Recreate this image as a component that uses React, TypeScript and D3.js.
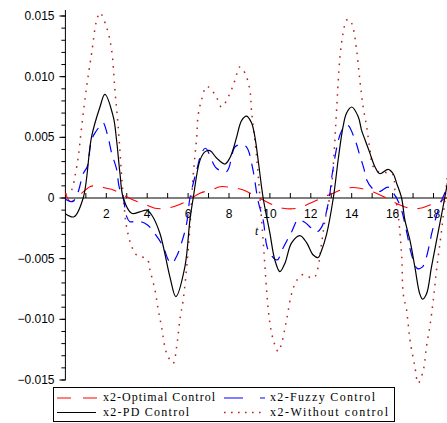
import React from "react";
import * as d3 from "d3";

// x2 response for four controllers over time t
const tOptimal = [0, 0.25, 0.7, 1.2, 1.53, 2.01, 2.34, 2.67, 3.0, 3.32, 3.97, 4.38, 4.95, 5.52, 6.09, 6.58, 7.15, 7.56, 8.04, 8.7, 9.19, 9.67, 10.16, 10.65, 11.31, 11.96, 12.6, 13.1, 13.58, 13.9, 14.4, 15.2, 15.7, 16.36, 16.85, 17.33, 17.82, 18.3, 18.7];
const xOptimal = [0.0004, -0.0003, 0.00025, 0.00093, 0.001, 0.0008, 0.00066, 0.0004, 0.0001, -0.00016, -0.00058, -0.00085, -0.00085, -0.00058, -0.0001, 0.0004, 0.00066, 0.00093, 0.00088, 0.00066, 0.00025, -0.00016, -0.00058, -0.00085, -0.00085, -0.00044, 0.00006, 0.0004, 0.00072, 0.00085, 0.0008, 0.0004, 0.0, -0.00058, -0.00085, -0.00085, -0.00058, -0.0003, 0.0001];

const tFuzzy = [0, 0.35, 0.6, 0.87, 1.07, 1.28, 1.5, 1.77, 1.85, 2.09, 2.26, 2.5, 2.63, 2.83, 2.99, 3.15, 3.56, 4.0, 4.4, 4.78, 5.03, 5.2, 5.44, 5.68, 5.93, 6.09, 6.42, 6.66, 6.85, 7.39, 7.88, 8.29, 8.6, 8.86, 9.15, 9.43, 9.67, 9.92, 10.35, 10.65, 11.06, 11.38, 11.7, 12.04, 12.28, 12.53, 12.9, 13.05, 13.5, 13.8, 14.16, 14.4, 14.6, 14.73, 15.0, 15.3, 15.78, 16.0, 16.36, 16.7, 16.9, 17.2, 17.45, 17.82, 17.9, 18.31, 18.7];
const xFuzzy = [-0.0001, -0.0003, 0.0004, 0.002, 0.0026, 0.0048, 0.0055, 0.0061, 0.0062, 0.005, 0.0037, 0.0024, 0.0009, 0, -0.0015, -0.00195, -0.0019, -0.0022, -0.003, -0.004, -0.0051, -0.0054, -0.0048, -0.0037, -0.0021, 0, 0.0023, 0.0037, 0.0041, 0.00245, 0.00217, 0.0042, 0.0044, 0.0042, 0.0025, -0.0003, -0.0018, -0.0043, -0.0051, -0.0041, -0.0028, -0.0018, -0.002, -0.0025, -0.0028, -0.0024, 0, 0.002, 0.0055, 0.006, 0.0048, 0.0035, 0.0024, 0.0015, 0.0008, 0.0005, 0.0009, 0.0005, -0.0006, -0.0029, -0.0045, -0.0058, -0.0057, -0.0037, -0.003, -0.0006, 0.001];

const tPD = [0, 0.42, 0.87, 1.28, 1.69, 1.93, 2.34, 2.5, 2.67, 2.83, 3.24, 3.64, 3.97, 4.22, 4.62, 5.11, 5.4, 5.84, 6.09, 6.25, 6.58, 6.82, 7.07, 7.39, 7.8, 8.04, 8.2, 8.37, 8.62, 8.86, 9.1, 9.27, 9.45, 9.67, 10.0, 10.24, 10.49, 10.73, 11.06, 11.47, 11.8, 12.12, 12.36, 12.53, 12.77, 13.1, 13.35, 13.58, 13.75, 14.0, 14.32, 14.48, 14.65, 14.89, 15.13, 15.38, 15.78, 16.03, 16.2, 16.44, 16.6, 16.85, 17.09, 17.33, 17.47, 17.66, 17.9, 18.15, 18.47, 18.7];
const xPD = [-0.0013, -0.00155, 0, 0.00505, 0.0075, 0.00854, 0.0067, 0.0048, 0.002, 0, -0.00126, -0.00115, -0.001, -0.0014, -0.0029, -0.0065, -0.00813, -0.0057, -0.0018, 0, 0.0031, 0.0038, 0.0039, 0.0033, 0.0028, 0.0033, 0.004, 0.005, 0.0064, 0.00675, 0.0062, 0.005, 0.0028, 0, -0.0029, -0.0051, -0.00607, -0.0054, -0.0037, -0.0031, -0.0037, -0.0047, -0.0049, -0.0043, -0.003, 0, 0.0033, 0.0059, 0.007, 0.0075, 0.0067, 0.0056, 0.0048, 0.0037, 0.0026, 0.002, 0.00236, 0.002, 0.0012, 0, -0.0018, -0.0035, -0.0057, -0.0079, -0.00834, -0.0079, -0.0057, -0.0035, -0.0007, 0.0014];

const tNone = [0, 0.3, 0.46, 0.63, 0.79, 1.04, 1.28, 1.53, 1.69, 2.01, 2.26, 2.42, 2.58, 2.83, 2.99, 3.24, 3.48, 4.0, 4.13, 4.38, 4.54, 4.7, 4.95, 5.27, 5.44, 5.6, 5.76, 5.93, 6.09, 6.25, 6.42, 6.49, 6.66, 6.9, 7.15, 7.39, 7.64, 8.04, 8.29, 8.53, 8.78, 9.02, 9.1, 9.35, 9.51, 9.67, 9.92, 10.08, 10.24, 10.41, 10.57, 10.82, 11.06, 11.31, 11.63, 12.04, 12.2, 12.36, 12.53, 12.7, 13.0, 13.15, 13.26, 13.42, 13.58, 13.75, 13.9, 14.07, 14.24, 14.4, 14.56, 14.73, 14.89, 15.05, 15.38, 15.78, 16.03, 16.11, 16.3, 16.45, 16.52, 16.68, 16.85, 17.09, 17.25, 17.5, 17.66, 17.82, 17.99, 18.15, 18.4, 18.7];
const xNone = [0.0003, 0.00066, 0.00175, 0.0034, 0.0058, 0.0092, 0.0119, 0.01466, 0.01526, 0.0141, 0.0122, 0.0089, 0.0059, 0.0001, -0.00236, -0.004, -0.0047, -0.00505, -0.0059, -0.0076, -0.0092, -0.0106, -0.0128, -0.01362, -0.01225, -0.01, -0.0084, -0.0057, -0.0024, 0.0019, 0.005, 0.0068, 0.0081, 0.0092, 0.0089, 0.0083, 0.0075, 0.0086, 0.0097, 0.0108, 0.0103, 0.0089, 0.0072, 0.0034, 0.0001, -0.0035, -0.0092, -0.0111, -0.0121, -0.01266, -0.012, -0.01, -0.0079, -0.0068, -0.0063, -0.0066, -0.0065, -0.0057, -0.0037, -0.0018, 0.0008, 0.004, 0.0072, 0.0115, 0.0136, 0.01466, 0.0147, 0.014, 0.0122, 0.0097, 0.0075, 0.0059, 0.004, 0.0026, 0.0021, 0.0021, 0.0019, 0.0007, -0.0018, -0.005, -0.0079, -0.0092, -0.0117, -0.0139, -0.01527, -0.0142, -0.0122, -0.0106, -0.0084, -0.0059, -0.0026, 0.0022];

const yMajorTicks = [0.015, 0.01, 0.005, 0, -0.005, -0.01, -0.015];
const yMajorLabels = ["0.015", "0.010", "0.005", "0", "\u22120.005", "\u22120.010", "\u22120.015"];
const xTickLabels = [2, 4, 6, 8, 10, 12, 14, 16, 18];

const legendNames = ["x2-Optimal Control", "x2-Fuzzy Control", "x2-PD Control", "x2-Without control"];

const W = 447;
const H = 423;

export default function App() {
  const x = d3.scaleLinear().domain([0, 18.7]).range([65.4, 65.4 + 18.7 * 20.45]);
  const y = d3.scaleLinear().domain([-0.015, 0.015]).range([380, 16]);

  const mk = (ts: number[], vs: number[]) =>
    d3
      .line<number>()
      .x((_, i) => x(ts[i]))
      .y((v) => y(v))
      .curve(d3.curveCatmullRom.alpha(0.5))(vs) || "";

  const series = [
    { d: mk(tNone, xNone), stroke: "#bd2020", width: 1.5, dash: "1.6,6" },
    { d: mk(tOptimal, xOptimal), stroke: "#ff0000", width: 1.1, dash: "14,10" },
    { d: mk(tFuzzy, xFuzzy), stroke: "#0000ff", width: 1.2, dash: "11,8" },
    { d: mk(tPD, xPD), stroke: "#000000", width: 1.2, dash: undefined as string | undefined },
  ];

  const minorY = d3.range(-15, 16).map((k) => k / 1000);
  const minorX = d3.range(1, 19);
  const axisX = x(0);
  const axisY = y(0);
  const tickFont = { fontFamily: "'Liberation Sans', Arial, sans-serif", fontSize: 12 };
  const legendFont = { fontFamily: "'Liberation Serif', 'Times New Roman', serif", fontSize: 12 };

  return (
    <svg
      width={W}
      height={H}
      viewBox={`0 0 ${W} ${H}`}
      style={{ position: "absolute", left: 0, top: 0, background: "#fff" }}
    >
      <rect x={0} y={0} width={W} height={H} fill="#fff" />
      {/* axes */}
      <line x1={axisX} x2={axisX} y1={10} y2={380} stroke="#000" strokeWidth={1} />
      <line x1={axisX} x2={W} y1={axisY} y2={axisY} stroke="#000" strokeWidth={1} />
      {minorY.map((v) => (
        <line key={"my" + v} x1={axisX - 4} x2={axisX} y1={y(v)} y2={y(v)} stroke="#000" strokeWidth={1} />
      ))}
      {yMajorTicks.map((v, i) => (
        <g key={"Y" + v}>
          <line x1={axisX - 6} x2={axisX} y1={y(v)} y2={y(v)} stroke="#000" strokeWidth={1} />
          <text x={54.5} y={y(v) + 4} textAnchor="end" {...tickFont} fill="#000">
            {yMajorLabels[i]}
          </text>
        </g>
      ))}
      {minorX.map((t) => (
        <line key={"mx" + t} x1={x(t)} x2={x(t)} y1={axisY} y2={axisY - 5} stroke="#000" strokeWidth={1} />
      ))}
      {xTickLabels.map((t) => (
        <text key={"X" + t} x={x(t)} y={218} textAnchor="middle" {...tickFont} fill="#000">
          {t}
        </text>
      ))}
      <text x={255} y={235} fontFamily="'Liberation Serif', serif" fontStyle="italic" fontSize={12} fill="#000">
        t
      </text>
      {/* curves */}
      {series.map((s, i) => (
        <path
          key={i}
          d={s.d}
          fill="none"
          stroke={s.stroke}
          strokeWidth={s.width}
          strokeDasharray={s.dash}
          strokeLinecap="butt"
        />
      ))}
      {/* legend */}
      <rect x={53.5} y={387.5} width={341} height={34} fill="#fff" stroke="#000" strokeWidth={1} />
      <line x1={57} x2={97} y1={398} y2={398} stroke="#ff0000" strokeWidth={1.1} strokeDasharray="14,12" />
      <text x={103} y={401} {...legendFont} textLength={112} lengthAdjust="spacing" fill="#000">
        {legendNames[0]}
      </text>
      <line x1={224} x2={265} y1={398} y2={398} stroke="#0000ff" strokeWidth={1.2} strokeDasharray="19,17" />
      <text x={270} y={401} {...legendFont} textLength={105} lengthAdjust="spacing" fill="#000">
        {legendNames[1]}
      </text>
      <line x1={57} x2={96} y1={412.5} y2={412.5} stroke="#000" strokeWidth={1.2} />
      <text x={103} y={416} {...legendFont} textLength={86} lengthAdjust="spacing" fill="#000">
        {legendNames[2]}
      </text>
      <line x1={224} x2={265} y1={412.5} y2={412.5} stroke="#bd2020" strokeWidth={1.5} strokeDasharray="1.6,5.4" />
      <text x={270} y={416} {...legendFont} textLength={118} lengthAdjust="spacing" fill="#000">
        {legendNames[3]}
      </text>
    </svg>
  );
}
